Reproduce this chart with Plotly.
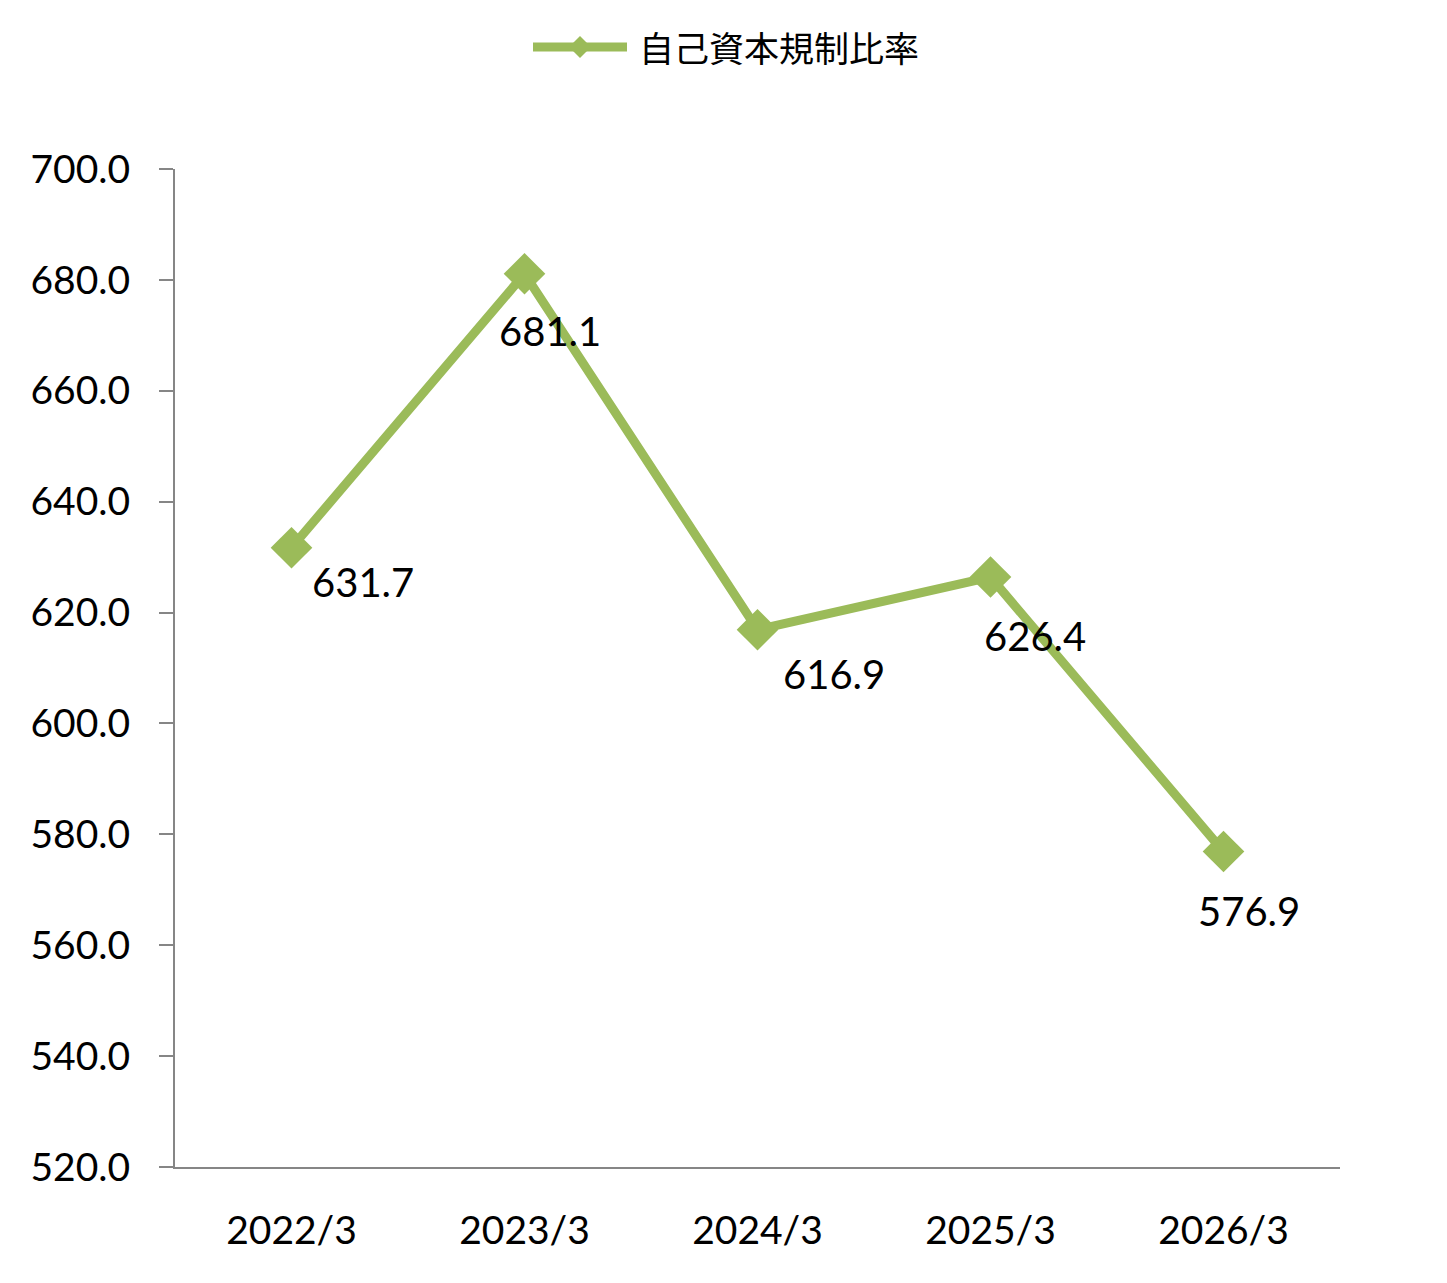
import plotly.graph_objects as go

categories = ["2022/3", "2023/3", "2024/3", "2025/3", "2026/3"]
values = [631.7, 681.1, 616.9, 626.4, 576.9]
series_name = "自己資本規制比率"
label_shift_x = [71, 25, 76, 44, 25]
label_shift_y = [-34, -57, -44, -59, -59]

color = "#9BBB59"
font_main = "Lato, 'Noto Sans', sans-serif"
W, H = 1447, 1283

fig = go.Figure()
fig.add_trace(go.Scatter(
    x=categories, y=values, name=series_name,
    mode="lines+markers",
    line=dict(color=color, width=9),
    marker=dict(symbol="diamond", size=32, color=color),
    showlegend=False,
))

for c, v, dx, dy in zip(categories, values, label_shift_x, label_shift_y):
    fig.add_annotation(x=c, y=v, text=f"{v:.1f}", showarrow=False,
                       xshift=dx, yshift=dy,
                       font=dict(family=font_main, size=40, color="#000000"))

# custom legend (line sample with diamond + text)
ly = 1 - 47 / H
def px(x):
    return x / W
fig.add_shape(type="line", xref="paper", yref="paper",
              x0=(533 - 175) / (1340 - 175), x1=(627 - 175) / (1340 - 175),
              y0=(1283 - 116 - 47) / (1283 - 116 - 169), y1=(1283 - 116 - 47) / (1283 - 116 - 169),
              line=dict(color=color, width=9))
cx = (580 - 175) / (1340 - 175)
cy = (1283 - 116 - 47) / (1283 - 116 - 169)
dxp = 11 / (1340 - 175)
dyp = 11 / (1283 - 116 - 169)
fig.add_shape(type="path", xref="paper", yref="paper",
              path=f"M {cx - dxp} {cy} L {cx} {cy + dyp} L {cx + dxp} {cy} L {cx} {cy - dyp} Z",
              fillcolor=color, line=dict(color=color, width=0))
fig.add_annotation(xref="paper", yref="paper", x=(637 - 175) / (1340 - 175), y=cy,
                   xanchor="left", yanchor="middle", showarrow=False, text=series_name,
                   font=dict(family="'Noto Sans CJK JP', sans-serif", size=35, color="#000000"))

fig.update_layout(
    width=W, height=H,
    margin=dict(l=175, r=107, t=169, b=116),
    paper_bgcolor="white", plot_bgcolor="white",
    showlegend=False,
    font=dict(family=font_main, size=39, color="#000000"),
)
fig.update_xaxes(type="category", range=[-0.5, 4.5], showline=True,
                 linecolor="#868686", linewidth=2, ticks="", showgrid=False,
                 ticklabelstandoff=28, tickfont=dict(size=39))
fig.update_yaxes(range=[520, 700], dtick=20, tickformat=".1f", showline=True,
                 linecolor="#868686", linewidth=2, ticks="outside", ticklen=14,
                 tickcolor="#868686", tickwidth=2, showgrid=False, zeroline=False,
                 ticklabelstandoff=21, tickfont=dict(size=39))

fig.write_html("out.html")
